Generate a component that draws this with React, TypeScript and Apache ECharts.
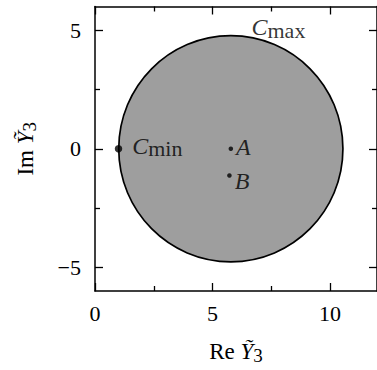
import React, { useEffect, useRef } from 'react';
import * as echarts from 'echarts';

// ---- data ----
const xRange = [0, 12];
const yRange = [-6, 6];
const majorTicksX = [0, 5, 10];
const minorTicksX = [2.5, 7.5];
const majorTicksY = [-5, 0, 5];
const minorTicksY = [-2.5, 2.5];
const circleCenter = [5.78, 0];
const circleRadius = 4.77;
const pointNames = ['Cmin', 'A', 'B'];
const pointX = [1, 5.78, 5.72];
const pointY = [0, 0, -1.13];
const cmaxLabelPos = [6.66, 5.13];
const xAxisName = ['Re ', 'Ỹ', '3'];
const yAxisName = ['Im ', 'Ỹ', '3'];

const FONT = '"Liberation Serif", "DejaVu Serif", serif';

const rich = {
  it: { fontFamily: FONT, fontStyle: 'italic', fontSize: 24, lineHeight: 28, color: '#000' },
  sub: { fontFamily: FONT, fontSize: 22, lineHeight: 20, verticalAlign: 'bottom', color: '#000' },
};
const nameRich = {
  rm: { fontFamily: FONT, fontSize: 23, lineHeight: 28, color: '#000' },
  it: { fontFamily: FONT, fontStyle: 'italic', fontSize: 23, lineHeight: 28, color: '#000' },
  sub: { fontFamily: FONT, fontSize: 19, lineHeight: 18, verticalAlign: 'bottom', color: '#000' },
};

function labelText(name: string): string {
  if (name.startsWith('C')) return `{it|C}{sub|${name.slice(1)}}`;
  return `{it|${name}}`;
}

const axisLineStyle = { color: '#000', width: 1.5 };
const tickLineStyle = { color: '#000', width: 1.3 };

function makeX(position: string, ticks: number[], len: number, showLine: boolean, labels: boolean, extra: any = {}) {
  return {
    type: 'value', min: xRange[0], max: xRange[1], position,
    axisLine: { show: showLine, onZero: false, lineStyle: axisLineStyle },
    axisTick: { show: true, inside: true, length: len, customValues: ticks, lineStyle: tickLineStyle },
    axisLabel: labels
      ? { show: true, customValues: ticks, margin: 11, color: '#000', fontFamily: FONT, fontSize: 22 }
      : { show: false },
    splitLine: { show: false },
    ...extra,
  };
}
function makeY(position: string, ticks: number[], len: number, showLine: boolean, labels: boolean, extra: any = {}) {
  return {
    type: 'value', min: yRange[0], max: yRange[1], position,
    axisLine: { show: showLine, onZero: false, lineStyle: axisLineStyle },
    axisTick: { show: true, inside: true, length: len, customValues: ticks, lineStyle: tickLineStyle },
    axisLabel: labels
      ? { show: true, customValues: ticks, margin: 14, color: '#000', fontFamily: FONT, fontSize: 22,
          formatter: (v: number) => (v < 0 ? '\u2212' + Math.abs(v) : String(v)) }
      : { show: false },
    splitLine: { show: false },
    ...extra,
  };
}

export default function App() {
  const ref = useRef<HTMLDivElement>(null);
  useEffect(() => {
    if (!ref.current) return;
    const chart = echarts.init(ref.current, undefined, { renderer: 'svg' });
    const option: any = {
      animation: false,
      backgroundColor: '#fff',
      grid: { left: 95, top: 6.5, width: 283, height: 284.5 },
      xAxis: [
        makeX('bottom', majorTicksX, 8, true, true, {
          name: `{rm|${xAxisName[0]}}{it|${xAxisName[1]}}{sub|${xAxisName[2]}}`,
          nameLocation: 'middle', nameGap: 46,
          nameTextStyle: { rich: nameRich },
        }),
        makeX('bottom', minorTicksX, 5, false, false),
        makeX('top', majorTicksX, 8, true, false),
        makeX('top', minorTicksX, 5, false, false),
      ],
      yAxis: [
        makeY('left', majorTicksY, 8, true, true, {
          name: `{rm|${yAxisName[0]}}{it|${yAxisName[1]}}{sub|${yAxisName[2]}}`,
          nameLocation: 'middle', nameGap: 56, nameRotate: 90,
          nameTextStyle: { rich: nameRich },
        }),
        makeY('left', minorTicksY, 5, false, false),
        makeY('right', majorTicksY, 8, true, false),
        makeY('right', minorTicksY, 5, false, false),
      ],
      series: [
        {
          type: 'custom',
          xAxisIndex: 0, yAxisIndex: 0,
          data: [[circleCenter[0], circleCenter[1], circleRadius]],
          renderItem: (params: any, api: any) => {
            const c = api.coord([api.value(0), api.value(1)]);
            const s = api.size([api.value(2), api.value(2)]);
            return {
              type: 'ellipse',
              shape: { cx: c[0], cy: c[1], rx: s[0], ry: s[1] },
              style: { fill: '#9e9e9e', stroke: '#000', lineWidth: 1.7 },
            };
          },
          z: 1,
        },
        {
          type: 'scatter',
          xAxisIndex: 0, yAxisIndex: 0,
          z: 3,
          data: pointNames.map((n, i) => ({
            value: [pointX[i], pointY[i]],
            symbolSize: n === 'Cmin' ? 7.5 : 4.5,
            label: {
              show: true,
              position: 'right',
              distance: n === 'Cmin' ? 10 : 3,
              offset: n === 'Cmin' ? [0, -3] : n === 'A' ? [0, -2] : [0, 5],
              formatter: labelText(n),
              rich,
            },
          })),
          itemStyle: { color: '#000' },
        },
        {
          type: 'scatter',
          xAxisIndex: 0, yAxisIndex: 0,
          z: 3,
          symbolSize: 0,
          data: [{
            value: cmaxLabelPos,
            label: { show: true, position: 'right', distance: 0, formatter: labelText('Cmax'), rich },
          }],
        },
      ],
    };
    chart.setOption(option);
    return () => chart.dispose();
  }, []);
  return <div ref={ref} style={{ position: 'fixed', left: 0, top: 0, width: 377, height: 370 }} />;
}
